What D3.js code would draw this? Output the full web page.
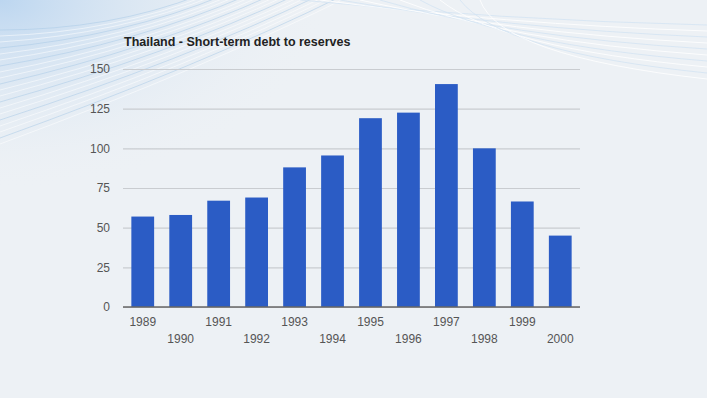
<!DOCTYPE html>
<meta charset="utf-8">
<style>
body { margin: 0; background: #edf1f5; font-family: 'Liberation Sans', Arial, sans-serif; }
.title { font-size: 12.5px; font-weight: bold; fill: #222; }
.tick text { font-size: 12px; fill: #555; }
.grid line { stroke: #c9ccd0; stroke-width: 1.2; }
.bar { fill: #2b5cc5; }
</style>
<body>
<svg width="707" height="398"></svg>
<script src="https://d3js.org/d3.v7.min.js"></script>
<script>

var years = ["1989","1990","1991","1992","1993","1994","1995","1996","1997","1998","1999","2000"];
var ratio = [57, 58, 67, 69, 88, 95.5, 119, 122.5, 140.5, 100, 66.5, 45];
var yTicks = [0, 25, 50, 75, 100, 125, 150];
var chartTitle = "Thailand - Short-term debt to reserves";

var svg = d3.select("svg");

// backdrop: pale slide with faint swooshes top-left / top-right
var defs = svg.append("defs");
var grad = defs.append("radialGradient").attr("id", "haze")
  .attr("cx", "0").attr("cy", "0").attr("r", "1");
grad.append("stop").attr("offset", "0").attr("stop-color", "#bcd6f0");
grad.append("stop").attr("offset", "1").attr("stop-color", "#edf1f5").attr("stop-opacity", 0);
svg.append("rect").attr("width", 707).attr("height", 398).attr("fill", "#edf1f5");
svg.append("rect").attr("width", 330).attr("height", 190).attr("fill", "url(#haze)");

var deco = svg.append("g").attr("fill", "none");
d3.range(20).forEach(function(i) {
  var p = d3.path();
  p.moveTo(0, 30 + i * 6);
  p.quadraticCurveTo(110 + i * 5, 30 + i * 2, 200 + i * 8, -5);
  deco.append("path").attr("d", p.toString())
    .attr("stroke", i % 3 ? "#ffffff" : "#a9c8e6")
    .attr("stroke-opacity", 0.65).attr("stroke-width", 0.8);
});
d3.range(10).forEach(function(i) {
  var p = d3.path();
  p.moveTo(300 + i * 20, 0);
  p.quadraticCurveTo(500, 20 + i * 4, 707, 25 + i * 6);
  deco.append("path").attr("d", p.toString())
    .attr("stroke", i % 2 ? "#ffffff" : "#d3e3f2")
    .attr("stroke-opacity", 0.8).attr("stroke-width", 1);
});

var margin = {top: 69, left: 123, right: 127, bottom: 91};
var width = 707 - margin.left - margin.right,
    height = 398 - margin.top - margin.bottom;

var g = svg.append("g")
  .attr("transform", "translate(" + margin.left + "," + margin.top + ")");

var x = d3.scaleBand().domain(years).range([0, width])
  .paddingInner(0.4).paddingOuter(0.22);
var y = d3.scaleLinear().domain([0, 150]).range([height, 0]);

svg.append("text").attr("class", "title")
  .attr("x", 124).attr("y", 46).text(chartTitle);

// gridlines + y labels
var yAxis = g.append("g").attr("class", "grid")
  .call(d3.axisLeft(y).tickValues(yTicks).tickSize(-width).tickPadding(13));
yAxis.select(".domain").remove();
yAxis.selectAll(".tick text").attr("font-family", "'Liberation Sans', Arial, sans-serif");

g.selectAll(".bar")
  .data(ratio)
  .enter().append("rect")
  .attr("class", "bar")
  .attr("x", function(d, i) { return x(years[i]); })
  .attr("width", x.bandwidth())
  .attr("y", function(d) { return y(d); })
  .attr("height", function(d) { return height - y(d); });

// baseline
g.append("line").attr("x1", 0).attr("x2", width)
  .attr("y1", height).attr("y2", height)
  .attr("stroke", "#666").attr("stroke-width", 1.5);

// staggered year labels
var xAxis = g.append("g")
  .attr("transform", "translate(0," + height + ")")
  .call(d3.axisBottom(x).tickSize(0).tickPadding(0));
xAxis.select(".domain").remove();
xAxis.selectAll(".tick text")
  .attr("font-family", "'Liberation Sans', Arial, sans-serif")
  .attr("dy", null)
  .attr("y", function(d, i) { return i % 2 ? 36 : 19; });

</script>
</body>
